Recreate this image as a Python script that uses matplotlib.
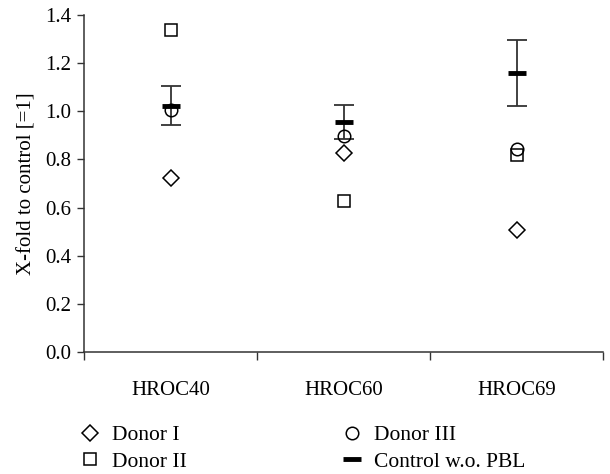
import matplotlib
matplotlib.use("Agg")
import matplotlib.pyplot as plt
from matplotlib.lines import Line2D
import numpy as np

categories = ["HROC40", "HROC60", "HROC69"]
donor1 = [0.722, 0.828, 0.507]
donor2 = [1.338, 0.627, 0.818]
donor3 = [1.005, 0.897, 0.842]
control = [1.022, 0.955, 1.158]
control_err = [0.081, 0.071, 0.137]
yticks = [0.0, 0.2, 0.4, 0.6, 0.8, 1.0, 1.2, 1.4]

plt.rcParams['font.family'] = ['Liberation Serif', 'DejaVu Serif']
plt.rcParams['font.size'] = 15

fig = plt.figure(figsize=(6.10, 4.74), dpi=100)
ax = fig.add_axes([84/610, 1-352/474, (603-84)/610, (352-15)/474])

x = np.arange(len(categories))
ax.errorbar(x, control, yerr=control_err, fmt='none', ecolor='#333333',
            elinewidth=1.3, capsize=7.5, capthick=1.3, zorder=2)
ax.plot(x, donor1, linestyle='none', marker='D', markersize=8, mfc='white',
        mec='black', mew=1.1, zorder=3)
ax.plot(x, donor2, linestyle='none', marker='s', markersize=8.5, mfc='white',
        mec='black', mew=1.1, zorder=3)
ax.plot(x, donor3, linestyle='none', marker='o', markersize=9, mfc='none',
        mec='black', mew=1.1, zorder=4)
ax.plot(x, control, linestyle='none', marker='_', markersize=12.5,
        mec='black', mew=3.5, zorder=5)

ax.set_xlim(-0.5, 2.5)
ax.set_ylim(0, 1.4)
ax.set_yticks(yticks)
ax.set_yticklabels([f"{v:.1f}" for v in yticks])
ax.set_xticks(x)
ax.set_xticklabels(categories)
ax.set_xticks([-0.5, 0.5, 1.5, 2.5], minor=True)
ax.tick_params(axis='x', which='major', length=0, pad=21)
ax.tick_params(axis='x', which='minor', length=6, width=1, color='#333333', direction='out')
ax.tick_params(axis='y', length=5, width=1, color='#333333', direction='out', pad=4)
for s in ['top', 'right']:
    ax.spines[s].set_visible(False)
for s in ['left', 'bottom']:
    ax.spines[s].set_color('#333333')
    ax.spines[s].set_linewidth(1.1)
ax.set_ylabel("X-fold to control [=1]")
ax.yaxis.set_label_coords(-0.092, 0.5)

handles = [
    Line2D([], [], linestyle='none', marker='D', markersize=8, mfc='white', mec='black', mew=1.1),
    Line2D([], [], linestyle='none', marker='s', markersize=8.5, mfc='white', mec='black', mew=1.1),
    Line2D([], [], linestyle='none', marker='o', markersize=9, mfc='white', mec='black', mew=1.1),
    Line2D([], [], linestyle='none', marker='_', markersize=12.5, mec='black', mew=3.5),
]
labels = ["Donor I", "Donor II", "Donor III", "Control w.o. PBL"]
fig.legend(handles, labels, ncol=2, loc='upper left', bbox_to_anchor=(60/610, 1-410/474),
           frameon=False, handletextpad=0.3, columnspacing=7.0, labelspacing=0.3,
           handlelength=1.4, borderpad=0.2, fontsize=15.5)

fig.savefig("out.png", dpi=100)
